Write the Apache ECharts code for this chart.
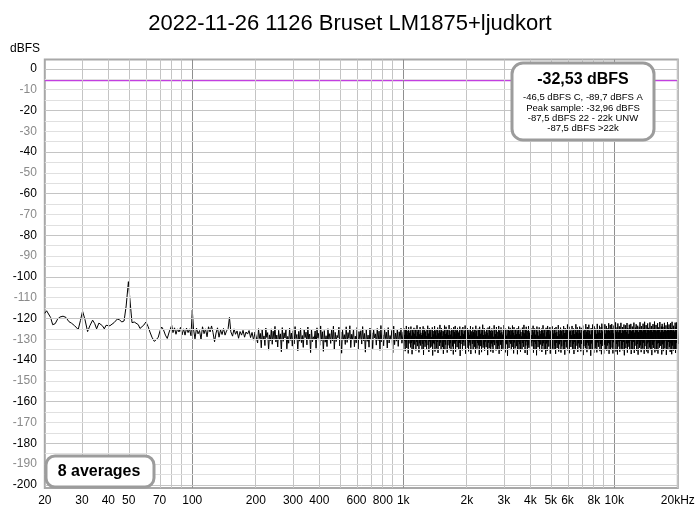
<!DOCTYPE html>
<html><head><meta charset="utf-8">
<script src="https://cdn.jsdelivr.net/npm/echarts@6/dist/echarts.min.js"></script>
<style>html,body{margin:0;padding:0;background:#fff}#c{width:700px;height:515px}</style>
</head><body><div id="c"></div>
<script>
const titleText = '2022-11-26 1126 Bruset LM1875+ljudkort';
const yAxisName = 'dBFS';
const xTickHz = [20,30,40,50,70,100,200,300,400,600,800,1000,2000,3000,4000,5000,6000,8000,10000,20000];
const xTickLabels = ['20','30','40','50','70','100','200','300','400','600','800','1k','2k','3k','4k','5k','6k','8k','10k','20kHz'];
const xGridHz = [20,30,40,50,60,70,80,90,100,200,300,400,500,600,700,800,900,1000,2000,3000,4000,5000,6000,7000,8000,9000,10000,20000];
const xDecadeHz = [100,1000,10000];
const yTickDb = [0,-10,-20,-30,-40,-50,-60,-70,-80,-90,-100,-110,-120,-130,-140,-150,-160,-170,-180,-190,-200];
const refLevelDb = -5.6;
const infoMain = '-32,53 dBFS';
const infoLines = ['-46,5 dBFS C, -89,7 dBFS A','Peak sample: -32,96 dBFS','-87,5 dBFS 22 - 22k UNW','-87,5 dBFS >22k'];
const avgText = '8 averages';

// low-frequency part of spectrum (Hz, dBFS)
const lowFreqHz = [20.0,20.4,20.8,21.3,21.8,22.4,23.0,23.6,24.4,25.2,26.0,26.8,27.7,28.8,29.5,30.2,31.0,31.9,32.7,33.7,
34.5,35.2,36.1,36.8,37.5,38.3,39.0,39.7,40.7,41.5,42.6,44.1,45.2,46.3,47.5,48.6,49.8,51.0,51.8,53.1,
54.1,55.5,56.5,57.6,58.9,60.3,61.7,63.0,64.4,66.0,67.5,69.0,70.3,71.6,73.0,74.6,76.1,78.0,79.9,81.0,
82.4,83.7,85.1,86.5,87.9,89.4,90.9,92.4,93.9,95.5,97.0,98.6,100.0,101.4,103.0,104.7,106.5,108.2,110.0,111.8,
113.7,115.5,117.5,119.4,121.4,123.4,125.4,127.5,129.6,131.7,133.9,136.1,138.4,140.6,143.0,145.3,147.8,150.0,152.3,155.2,
157.7,160.3,163.0,165.7,168.4,171.2,174.0,176.9,179.8,182.8,185.8,188.9,192.0,195.2,198.4];
const lowDb = [-117.5,-116.3,-116.8,-119.5,-123.0,-122.5,-120.3,-119.3,-118.9,-119.5,-121.5,-122.3,-123.5,-125.3,-121.0,-116.5,-120.5,-126.3,-123.5,-120.8,
-122.5,-125.0,-122.2,-121.3,-123.5,-125.0,-123.3,-122.5,-123.5,-124.0,-122.0,-120.3,-120.6,-121.7,-121.2,-114.0,-102.3,-114.5,-122.0,-121.7,
-122.4,-123.0,-124.8,-125.7,-123.2,-121.7,-123.8,-126.5,-129.0,-131.0,-130.2,-129.0,-126.0,-124.1,-125.4,-128.0,-129.6,-126.0,-123.3,-126.8,
-124.5,-127.6,-125.0,-126.5,-124.3,-127.9,-125.0,-128.0,-124.6,-126.8,-125.0,-128.3,-116.0,-125.2,-129.8,-124.6,-127.4,-125.8,-130.0,-124.0,
-127.3,-125.0,-128.8,-124.0,-126.5,-123.6,-126.8,-131.2,-127.0,-124.5,-129.0,-125.5,-127.7,-124.8,-128.0,-126.0,-125.0,-119.5,-126.4,-128.5,
-125.0,-127.6,-126.0,-129.5,-126.3,-128.0,-125.7,-129.0,-126.5,-127.5,-125.8,-129.2,-126.7,-130.4,-126.5];

// noise floor 202 Hz - 985 Hz (log-spaced bins)
const noiseAStartHz = 202, noiseAEndHz = 985;
const noiseADb = [
-126.3,-131.8,-124.9,-129.6,-127.2,-134.1,-125.5,-130.2,-128.4,-133.0,
-124.6,-129.1,-126.8,-135.2,-127.9,-130.7,-125.0,-132.4,-126.1,-129.8,
-123.8,-131.3,-128.0,-133.7,-125.7,-130.0,-127.4,-136.0,-124.4,-131.0,
-126.9,-129.4,-125.2,-134.6,-128.6,-131.9,-124.7,-130.5,-127.0,-133.3,
-125.9,-132.2,-123.9,-129.7,-127.7,-135.5,-126.2,-130.9,-124.8,-131.6,
-128.2,-133.9,-125.4,-129.2,-126.6,-132.7,-124.1,-130.3,-127.5,-136.4,
-125.1,-131.2,-128.8,-130.0,-126.0,-134.3,-124.5,-129.5,-127.1,-132.9,
-123.6,-130.6,-126.4,-135.8,-125.8,-131.4,-128.3,-133.5,-124.9,-129.9,
-127.3,-132.0,-125.3,-130.8,-123.7,-134.9,-126.7,-131.1,-128.1,-129.3,
-124.2,-133.2,-126.5,-136.7,-125.6,-130.4,-127.8,-132.5,-124.0,-131.5,
-126.8,-129.6,-123.5,-134.0,-127.6,-130.1,-125.1,-133.6,-128.5,-131.7,
-124.3,-135.1,-126.3,-129.8,-125.9,-132.3,-123.9,-130.7,-127.2,-136.2,
-125.5,-131.0,-128.0,-133.8,-124.6,-130.2,-126.9,-134.5,-125.2,-129.4,
-127.4,-132.8,-124.8,-130.6,-126.1,-135.3,-123.4,-131.3,-127.9,-133.1,
-125.0,-129.7,-126.6,-134.2,-124.4,-131.8,-128.2,-130.0,-125.7,-136.5,
-123.7,-132.6,-127.0,-130.9,-125.3,-133.4,-126.4,-129.9,-124.7,-131.9];

// noise floor 1 kHz - 20 kHz (log-spaced bins)
const noiseBStartHz = 1000, noiseBEndHz = 20000;
const noiseBDb = [
-126.4,-133.1,-124.8,-130.6,-127.9,-135.7,-125.3,-131.4,-123.6,-134.2,-128.1,-130.3,-125.9,-136.8,-124.2,-132.0,-127.0,-129.8,-126.1,-133.9,
-123.9,-131.7,-128.3,-137.2,-125.6,-130.9,-126.8,-134.6,-124.5,-132.5,-127.4,-129.6,-125.0,-135.4,-128.6,-131.2,-123.3,-133.3,-126.5,-130.1,
-125.2,-136.3,-127.6,-131.9,-124.1,-133.0,-126.9,-130.5,-128.0,-134.8,-125.7,-132.2,-123.8,-137.5,-127.1,-130.8,-124.9,-133.6,-126.3,-131.5,
-128.4,-135.0,-125.4,-129.9,-123.5,-132.8,-127.3,-136.1,-124.7,-131.0,-126.6,-134.0,-125.1,-130.4,-128.9,-133.5,-124.3,-137.8,-126.0,-131.8,
-127.7,-132.4,-123.7,-135.9,-126.2,-130.7,-125.5,-134.4,-128.2,-131.3,-124.4,-136.6,-127.2,-129.7,-125.8,-133.2,-123.1,-131.6,-126.7,-135.2,
-124.6,-130.2,-128.5,-133.7,-125.9,-137.0,-126.4,-131.1,-123.4,-134.9,-127.5,-132.6,-124.0,-130.0,-126.8,-136.4,-125.3,-132.9,-128.0,-130.6,
-123.2,-134.3,-126.0,-131.9,-127.8,-135.6,-124.8,-130.3,-125.6,-133.4,-128.7,-137.3,-124.2,-131.4,-126.5,-132.1,-123.6,-136.0,-127.3,-130.9,
-125.7,-133.8,-124.5,-129.8,-127.0,-134.7,-126.3,-131.7,-123.9,-138.0,-128.4,-132.3,-125.0,-130.5,-126.9,-135.3,-124.1,-131.2,-127.6,-133.1,
-126.1,-130.1,-123.4,-136.9,-125.4,-132.7,-128.1,-134.1,-124.7,-130.8,-126.7,-135.8,-125.2,-131.5,-127.9,-133.0,-123.7,-137.1,-126.2,-130.4,
-128.3,-132.2,-124.3,-135.1,-126.6,-131.0,-125.1,-133.6,-127.2,-136.7,-123.5,-130.7,-126.0,-134.5,-128.6,-131.8,-124.9,-132.9,-125.6,-137.4,
-124.0,-131.3,-127.4,-133.3,-125.5,-136.2,-126.8,-130.2,-123.0,-134.0,-128.0,-132.5,-124.6,-135.5,-126.3,-131.1,-127.7,-133.8,-125.0,-130.0,
-126.9,-137.6,-124.4,-131.6,-128.2,-134.3,-123.8,-130.6,-125.9,-135.9,-127.1,-132.0,-124.8,-133.5,-126.1,-136.5,-128.8,-131.4,-123.3,-132.8,
-125.3,-130.3,-127.5,-135.4,-124.1,-131.9,-126.4,-134.8,-128.5,-133.1,-123.6,-137.0,-125.8,-130.9,-127.0,-132.6,-124.3,-135.6,-126.6,-131.0,
-127.8,-134.6,-125.1,-130.0,-123.2,-133.9,-126.2,-136.3,-124.9,-131.7,-128.3,-132.4,-125.4,-137.9,-127.3,-130.4,-123.9,-134.2,-126.0,-131.3,
-124.5,-132.1,-127.9,-135.2,-125.7,-130.8,-123.4,-133.7,-126.9,-136.8,-124.2,-131.5,-128.1,-134.4,-125.2,-130.1,-127.5,-133.3,-124.7,-137.2,
-126.3,-131.2,-123.8,-134.9,-127.6,-132.3,-125.0,-136.0,-126.5,-130.5,-128.6,-135.0,-124.4,-131.8,-126.8,-133.6,-123.1,-130.7,-127.2,-136.6,
-125.6,-133.0,-124.0,-131.0,-128.4,-137.5,-125.9,-132.7,-123.7,-134.1,-127.0,-130.3,-126.1,-135.7,-124.6,-131.6,-128.0,-133.4,-125.3,-130.9,
-123.5,-136.4,-126.7,-131.3,-124.8,-134.7,-127.8,-132.2,-125.5,-137.7,-123.9,-130.6,-126.4,-133.8,-128.3,-131.1,-124.3,-135.3,-126.0,-132.5,
-127.4,-130.2,-124.9,-136.1,-125.8,-133.2,-123.3,-131.9,-127.1,-134.8,-125.1,-130.8,-128.7,-137.3,-124.5,-132.0,-126.6,-135.6,-123.6,-131.4,
-125.0,-133.5,-127.7,-130.4,-124.2,-136.9,-126.2,-132.8,-128.1,-131.2,-123.8,-134.5,-125.6,-130.0,-127.3,-135.1,-124.7,-133.0,-126.9,-137.0,
-124.1,-131.7,-126.5,-134.2,-128.5,-130.7,-123.2,-135.9,-125.7,-132.4,-127.6,-131.0,-124.4,-136.4,-126.1,-133.4,-125.2,-130.3,-128.2,-134.9,
-123.7,-132.6,-127.0,-137.4,-124.6,-131.1,-126.8,-133.9,-125.4,-130.9,-122.9,-135.4,-127.9,-132.1,-124.0,-136.7,-126.3,-131.5,-125.8,-133.7,
-128.0,-130.5,-123.6,-134.6,-126.0,-132.3,-124.8,-137.1,-127.5,-131.3,-125.1,-135.2,-122.8,-130.2,-126.7,-133.1,-124.3,-136.1,-127.2,-131.9,
-125.5,-134.0,-123.9,-130.6,-126.9,-135.8,-124.5,-132.2,-128.4,-131.0,-123.4,-137.6,-126.1,-133.3,-125.3,-130.4,-127.8,-134.3,-122.7,-132.7,
-126.4,-136.2,-124.1,-131.6,-127.1,-133.0,-123.0,-135.0,-125.9,-130.8,-127.7,-137.9,-124.6,-132.0,-126.2,-134.7,-122.9,-131.2,-125.4,-136.5,
-123.8,-130.1,-126.6,-134.4,-124.9,-132.9,-127.4,-136.3,-122.6,-131.5,-125.6,-133.6,-126.8,-130.7,-123.5,-135.7,-127.0,-132.3,-124.2,-137.2,
-122.5,-133.2,-126.3,-131.0,-124.0,-136.9,-125.7,-132.6,-122.8,-134.8,-127.3,-130.3,-123.6,-135.5,-126.0,-133.0,-124.7,-131.8,-122.3,-137.0,
-125.9,-132.4,-123.1,-135.1,-126.9,-130.5,-122.7,-134.0,-124.9,-136.8,-127.2,-131.4,-123.4,-133.8,-125.2,-130.0,-121.9,-135.9,-126.4,-132.2,
-124.3,-137.3,-122.4,-131.1,-126.7,-133.5,-123.8,-136.0,-125.4,-130.8,-122.1,-134.6,-127.0,-132.8,-124.1,-135.3,-126.1,-131.3,-122.9,-137.7,
-125.6,-130.2,-123.3,-134.3,-126.5,-132.0,-122.2,-136.4,-124.6,-131.7,-127.4,-133.6,-123.0,-135.0,-125.8,-130.6,-122.6,-137.1,-126.2,-132.5,
-123.9,-134.9,-125.1,-131.2,-122.0,-136.6,-126.8,-133.1,-124.4,-130.4,-122.8,-135.6,-125.9,-132.3,-123.5,-137.4,-126.6,-131.0,-124.2,-134.1,
-121.8,-132.9,-125.3,-136.2,-123.7,-130.9,-126.3,-134.5,-122.5,-131.6,-124.8,-137.0,-121.6,-133.3,-125.5,-130.3,-123.2,-135.8,-126.9,-132.0,
-122.4,-136.7,-124.5,-131.4,-126.0,-133.9,-121.9,-135.2,-125.0,-130.7,-123.6,-137.6,-126.5,-132.6,-122.7,-134.2,-124.9,-131.1,-121.5,-136.3,
-125.7,-130.5,-123.1,-135.4,-126.2,-132.1,-122.3,-136.9,-124.3,-131.8,-125.6,-134.0,-121.7,-133.2,-126.7,-130.1,-123.9,-137.3,-122.6,-132.4,
-124.0,-135.7,-126.4,-131.5,-122.1,-134.4,-125.2,-130.6,-123.3,-137.5,-126.1,-132.9,-121.8,-135.1,-124.7,-131.3,-122.9,-133.7,-125.8,-136.1,
-122.2,-131.9,-124.6,-137.2,-121.6,-133.0,-125.9,-135.5,-123.5,-130.9,-126.3,-134.8,-122.0,-136.6,-124.1,-131.7,-121.9,-135.0,-123.8,-132.3];

// ---------- build ----------
const L = Math.log10;
function binHz(a, b, n) { const out = []; for (let i = 0; i < n; i++) out.push(a * Math.pow(b / a, i / (n - 1))); return out; }
const noiseAHz = binHz(noiseAStartHz, noiseAEndHz, noiseADb.length);
const noiseBHz = binHz(noiseBStartHz, noiseBEndHz, noiseBDb.length);
const spectrum = [];
lowFreqHz.forEach((f, i) => spectrum.push([L(f), lowDb[i]]));
noiseAHz.forEach((f, i) => spectrum.push([L(f), noiseADb[i]]));
noiseBHz.forEach((f, i) => spectrum.push([L(f), noiseBDb[i]]));

const xMin = L(20), xMax = L(20000);
const gridLines = [];
xGridHz.forEach(f => gridLines.push({ xAxis: L(f), lineStyle: { color: xDecadeHz.indexOf(f) >= 0 ? '#8f8f8f' : '#c4c4c4', width: 1, type: 'solid' } }));
for (let i = 0; i < yTickDb.length; i++) {
  const v = yTickDb[i];
  gridLines.push({ yAxis: v, lineStyle: { color: v % 20 === 0 ? '#c4c4c4' : '#e0e0e0', width: 1, type: 'solid' } });
  if (i < yTickDb.length - 1) gridLines.push({ yAxis: v - 5, lineStyle: { color: '#e0e0e0', width: 1, type: 'solid' } });
}

const FONT = 'Liberation Sans, Arial, sans-serif';
const chart = echarts.init(document.getElementById('c'), null, { renderer: 'canvas' });
chart.setOption({
  animation: false,
  backgroundColor: '#fff',
  title: { text: titleText, left: 'center', top: 8, textStyle: { fontSize: 22, fontWeight: 'normal', color: '#000', fontFamily: FONT } },
  grid: { left: 44.8, right: 22.2, top: 59.5, bottom: 27, show: true, borderColor: '#a8a8a8', borderWidth: 2, outerBoundsMode: 'none' },
  xAxis: {
    type: 'value', min: xMin, max: xMax,
    axisLine: { show: false }, axisTick: { show: false }, splitLine: { show: false },
    axisLabel: {
      customValues: xTickHz.map(L), showMinLabel: true, showMaxLabel: true, hideOverlap: false,
      fontSize: 12, color: '#000', fontFamily: FONT, margin: 7,
      formatter: function (v) {
        let best = 0, d = 1e9;
        xTickHz.forEach((f, i) => { const dd = Math.abs(L(f) - v); if (dd < d) { d = dd; best = i; } });
        return xTickLabels[best];
      }
    }
  },
  yAxis: {
    type: 'value', min: -201.5, max: 4.5,
    axisLine: { show: false }, axisTick: { show: false }, splitLine: { show: false },
    axisLabel: {
      customValues: yTickDb, showMinLabel: true, showMaxLabel: true, hideOverlap: false,
      fontSize: 12, fontFamily: FONT, margin: 8,
      color: function (v) { return Number(v) % 20 === 0 ? '#000' : '#8a8a8a'; }
    }
  },
  series: [
    {
      type: 'line', z: 1, silent: true, symbol: 'none', data: [[xMin, refLevelDb]], lineStyle: { opacity: 0 },
      markLine: { silent: true, symbol: ['none', 'none'], label: { show: false }, animation: false, emphasis: { disabled: true }, data: gridLines }
    },
    {
      type: 'line', z: 2, silent: true, symbol: 'none', data: [[xMin, refLevelDb], [xMax, refLevelDb]],
      lineStyle: { color: '#c23fe0', width: 1.5 }
    },
    {
      type: 'line', z: 3, silent: true, symbol: 'none', data: spectrum,
      lineStyle: { color: '#000', width: 1 }
    }
  ],
  graphic: [
    { type: 'text', z: 100, style: { text: yAxisName, x: 10, y: 49, fill: '#000', font: '12px ' + FONT, align: 'left', verticalAlign: 'middle' } },
    { type: 'rect', z: 100, shape: { x: 512, y: 63, width: 142, height: 77, r: 11 }, style: { fill: '#fff', stroke: '#9c9c9c', lineWidth: 3 } },
    { type: 'text', z: 101, style: { text: infoMain, x: 583, y: 80, fill: '#000', font: 'bold 16px ' + FONT, align: 'center', verticalAlign: 'middle' } },
    { type: 'text', z: 101, style: { text: infoLines[0], x: 583, y: 97.5, fill: '#000', font: '9.5px ' + FONT, align: 'center', verticalAlign: 'middle' } },
    { type: 'text', z: 101, style: { text: infoLines[1], x: 583, y: 108, fill: '#000', font: '9.5px ' + FONT, align: 'center', verticalAlign: 'middle' } },
    { type: 'text', z: 101, style: { text: infoLines[2], x: 583, y: 118, fill: '#000', font: '9.5px ' + FONT, align: 'center', verticalAlign: 'middle' } },
    { type: 'text', z: 101, style: { text: infoLines[3], x: 583, y: 128, fill: '#000', font: '9.5px ' + FONT, align: 'center', verticalAlign: 'middle' } },
    { type: 'rect', z: 100, shape: { x: 46, y: 456, width: 108, height: 31, r: 9 }, style: { fill: '#fff', stroke: '#9c9c9c', lineWidth: 3 } },
    { type: 'text', z: 101, style: { text: avgText, x: 99, y: 472, fill: '#000', font: 'bold 16px ' + FONT, align: 'center', verticalAlign: 'middle' } }
  ]
});
</script>
</body></html>
